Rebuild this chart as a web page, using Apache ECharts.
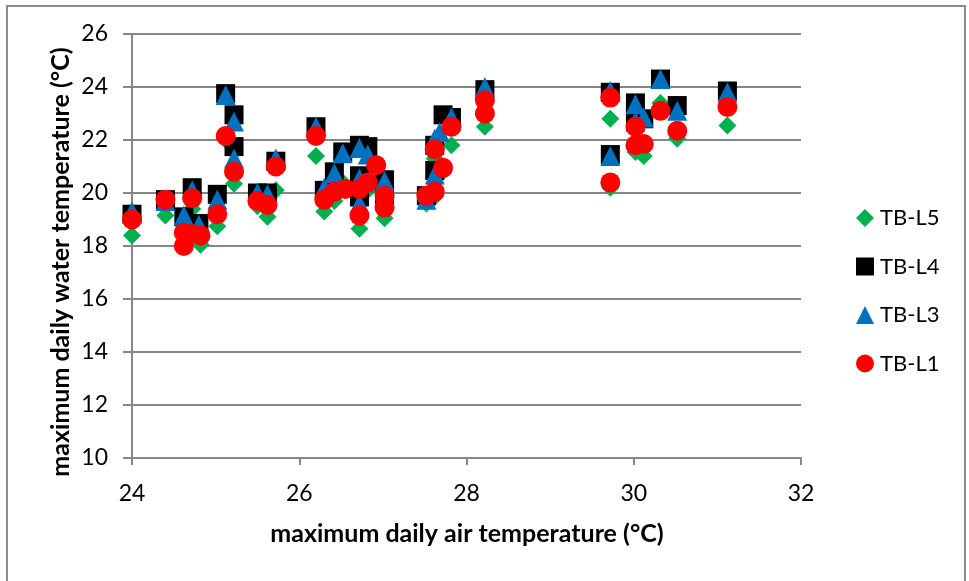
<!DOCTYPE html>
<html>
<head>
<meta charset="utf-8">
<script src="https://cdn.jsdelivr.net/npm/echarts@6/dist/echarts.min.js"></script>
<style>
html,body{margin:0;padding:0;background:#fff;}
#chart{width:969px;height:581px;}
</style>
</head>
<body>
<div id="chart"></div>
<script>
// Axis ticks
const xTicks = [24, 26, 28, 30, 32];
const yTicks = [10, 12, 14, 16, 18, 20, 22, 24, 26];
const seriesNames = ['TB-L5', 'TB-L4', 'TB-L3', 'TB-L1'];

// [max daily air temperature, max daily water temperature]
const tbL5 = [
  [24.0, 18.4], [24.4, 19.15], [24.62, 18.6], [24.72, 19.4], [24.82, 18.05],
  [25.02, 18.75], [25.12, 22.0], [25.22, 20.35], [25.5, 19.5], [25.62, 19.1],
  [25.72, 20.1], [26.2, 21.4], [26.3, 19.3], [26.42, 19.7], [26.52, 20.4],
  [26.72, 19.8], [26.72, 18.65], [26.82, 20.1], [27.02, 19.05], [27.52, 19.6],
  [27.62, 21.3], [27.62, 19.85], [27.72, 20.8], [27.82, 21.8], [28.22, 22.5],
  [29.72, 22.8], [29.72, 20.2], [30.02, 21.55], [30.12, 21.4], [30.32, 23.4],
  [30.52, 22.05], [31.12, 22.55]
];
const tbL4 = [
  [24.0, 19.2], [24.4, 19.75], [24.62, 19.1], [24.72, 20.2], [24.8, 18.85],
  [25.02, 19.95], [25.12, 23.75], [25.22, 22.95], [25.22, 21.75], [25.5, 20.0],
  [25.62, 20.0], [25.72, 21.2], [26.2, 22.5], [26.3, 20.1], [26.42, 20.8],
  [26.52, 21.55], [26.72, 21.8], [26.82, 21.75], [26.72, 20.65], [26.72, 19.85],
  [27.02, 20.5], [27.02, 19.9], [27.52, 19.9], [27.62, 21.8], [27.62, 20.85],
  [27.72, 22.95], [27.82, 22.85], [28.22, 23.9], [29.72, 23.8], [29.72, 21.45],
  [30.02, 23.4], [30.02, 22.85], [30.12, 22.8], [30.32, 24.3], [30.52, 23.3],
  [31.12, 23.85]
];
const tbL3 = [
  [24.0, 19.3], [24.4, 19.7], [24.62, 19.15], [24.72, 20.1], [24.8, 18.8],
  [25.02, 19.75], [25.12, 23.7], [25.22, 22.7], [25.22, 21.3], [25.5, 20.0],
  [25.62, 19.95], [25.72, 21.3], [26.2, 22.5], [26.3, 20.2], [26.42, 20.75],
  [26.52, 21.5], [26.72, 21.7], [26.82, 21.45], [26.72, 20.55], [26.72, 19.6],
  [27.02, 20.45], [27.02, 19.8], [27.52, 19.75], [27.62, 22.05], [27.62, 20.7],
  [27.68, 22.3], [27.82, 22.85], [28.22, 24.0], [29.72, 23.85], [29.72, 21.4],
  [30.02, 23.35], [30.02, 22.7], [30.12, 22.85], [30.32, 24.3], [30.52, 23.1],
  [31.12, 23.8]
];
const tbL1 = [
  [24.0, 19.0], [24.4, 19.75], [24.62, 18.5], [24.62, 18.0], [24.72, 19.8],
  [24.72, 18.45], [24.82, 18.4], [25.02, 19.2], [25.12, 22.15], [25.22, 20.8],
  [25.5, 19.7], [25.62, 19.55], [25.72, 21.0], [26.2, 22.15], [26.3, 19.75],
  [26.42, 20.05], [26.55, 20.15], [26.72, 20.15], [26.82, 20.4], [26.92, 21.05],
  [26.72, 19.15], [27.02, 19.9], [27.02, 19.45], [27.52, 19.9], [27.62, 20.05],
  [27.62, 21.65], [27.72, 20.95], [27.82, 22.5], [28.22, 23.5], [28.22, 23.0],
  [29.72, 23.6], [29.72, 20.4], [30.02, 22.5], [30.02, 21.8], [30.12, 21.85],
  [30.32, 23.1], [30.52, 22.35], [31.12, 23.25]
];

const FONT = 'Lato';
const chart = echarts.init(document.getElementById('chart'), null, {renderer: 'canvas'});
const gray = '#868686';

const option = {
  animation: false,
  backgroundColor: '#fff',
  grid: {left: 132, right: 168, top: 34, bottom: 123, containLabel: false},
  xAxis: {
    type: 'value', min: xTicks[0], max: xTicks[xTicks.length - 1], interval: 2,
    axisLine: {show: true, onZero: false, lineStyle: {color: gray, width: 2}},
    axisTick: {show: true, length: 7, lineStyle: {color: gray, width: 2}},
    splitLine: {show: false},
    axisLabel: {color: '#000', fontFamily: FONT, fontSize: 23, margin: 24}
  },
  yAxis: {
    type: 'value', min: yTicks[0], max: yTicks[yTicks.length - 1], interval: 2,
    axisLine: {show: true, onZero: false, lineStyle: {color: gray, width: 2}},
    axisTick: {show: true, length: 9, lineStyle: {color: gray, width: 2}},
    splitLine: {show: true, lineStyle: {color: gray, width: 2}},
    axisLabel: {color: '#000', fontFamily: FONT, fontSize: 23, margin: 24}
  },
  legend: {
    orient: 'vertical', left: 851, top: 202, padding: 5,
    itemWidth: 18, itemHeight: 18, itemGap: 26.5,
    textStyle: {color: '#000', fontFamily: FONT, fontSize: 22, padding: [0, 0, 0, 1]},
    data: seriesNames
  },
  graphic: [
    {type: 'rect', silent: true, z: -1,
     shape: {x: 7, y: 6, width: 958, height: 640},
     style: {fill: null, stroke: '#8c8c8c', lineWidth: 2}},
    {type: 'text', x: 467, y: 534,
     style: {text: 'maximum daily air temperature (°C)', font: 'bold 25px ' + FONT,
             fill: '#000', textAlign: 'center', textVerticalAlign: 'middle'}},
    {type: 'text', x: 61, y: 262, rotation: Math.PI / 2,
     style: {text: 'maximum daily water temperature (°C)', font: 'bold 25px ' + FONT,
             fill: '#000', textAlign: 'center', textVerticalAlign: 'middle'}}
  ],
  series: [
    {name: seriesNames[0], type: 'scatter', data: tbL5, symbol: 'diamond', symbolSize: 18,
     itemStyle: {color: '#00B050', opacity: 1}},
    {name: seriesNames[1], type: 'scatter', data: tbL4, symbol: 'rect', symbolSize: 19,
     itemStyle: {color: '#000000', opacity: 1}},
    {name: seriesNames[2], type: 'scatter', data: tbL3, symbol: 'triangle', symbolSize: 20,
     itemStyle: {color: '#0070C0', opacity: 1}},
    {name: seriesNames[3], type: 'scatter', data: tbL1, symbol: 'circle', symbolSize: 20,
     itemStyle: {color: '#FF0000', opacity: 1}}
  ]
};
chart.setOption(option);
</script>
</body>
</html>
